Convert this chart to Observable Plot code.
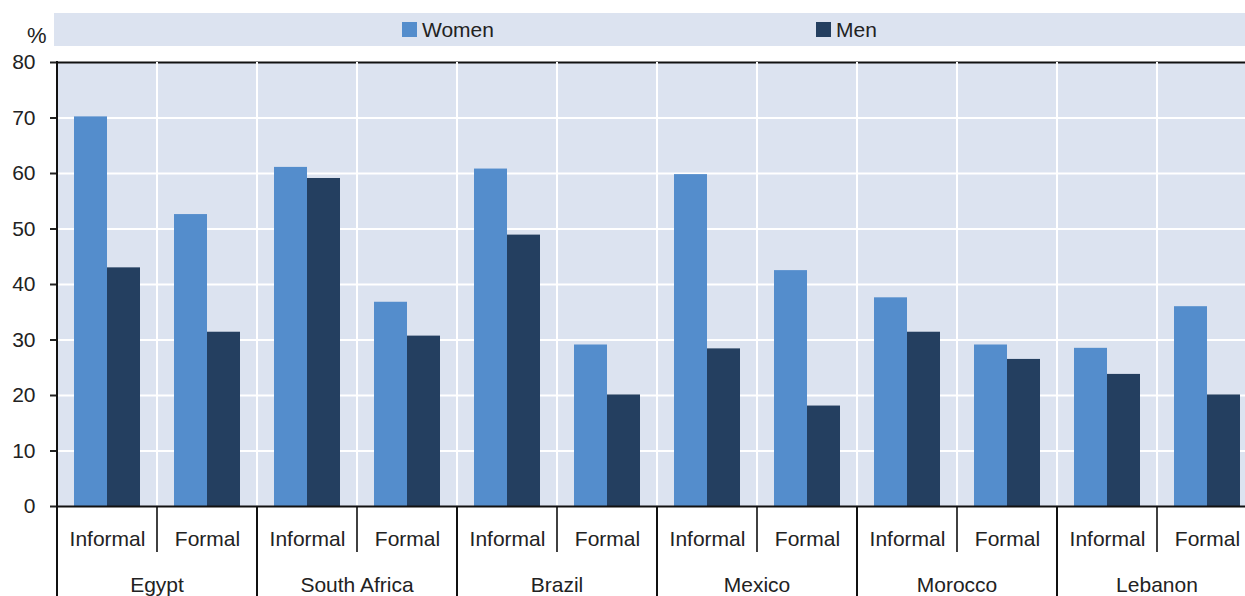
<!DOCTYPE html>
<html>
<head>
<meta charset="utf-8">
<script src="https://cdn.jsdelivr.net/npm/d3@7"></script>
<script src="https://cdn.jsdelivr.net/npm/@observablehq/plot@0.6"></script>
<style>
  html, body { margin: 0; padding: 0; background: #fff; overflow: hidden; }
  body { width: 1245px; height: 596px; font-family: "Liberation Sans", Arial, sans-serif; color: #222; }
  #head { position: relative; height: 46px; }
  #pct { position: absolute; left: 27px; top: 25px; font-size: 22px; line-height: 22px; }
  #legend { position: absolute; left: 54px; right: 0; top: 13px; height: 33px; background: #dce3f0; }
  .item { position: absolute; top: 0; height: 33px; display: flex; align-items: center; font-size: 21px; }
  .sw { width: 15px; height: 15px; margin-right: 5px; }
  #chart svg { display: block; }
  #chart svg [aria-label="y-axis tick"] path { stroke-width: 2; }
</style>
</head>
<body>
<div id="head">
  <span id="pct">%</span>
  <div id="legend"></div>
</div>
<div id="chart"></div>
<script>
// ---- data ----
const countries = ["Egypt", "South Africa", "Brazil", "Mexico", "Morocco", "Lebanon"];
const types = ["Informal", "Formal"];
const series = ["Women", "Men"];
// values per country, in order Informal, Formal
const women = [70.2, 52.6, 61.1, 36.8, 60.8, 29.1, 59.8, 42.5, 37.6, 29.1, 28.5, 36.0];
const men   = [43.0, 31.4, 59.1, 30.7, 48.9, 20.1, 28.4, 18.1, 31.4, 26.5, 23.8, 20.1];
const yTicks = [0, 10, 20, 30, 40, 50, 60, 70, 80];

// ---- styles ----
const colors = {Women: "#548dcc", Men: "#243f60"};
const bg = "#dce3f0";

// ---- build table ----
const keys = [];
const rows = [];
countries.forEach((c, ci) => {
  types.forEach((t, ti) => {
    const k = c + "|" + t;
    keys.push(k);
    const i = ci * types.length + ti;
    rows.push({key: k, country: c, type: t, sex: "Women", value: women[i]});
    rows.push({key: k, country: c, type: t, sex: "Men", value: men[i]});
  });
});

// legend
const legend = document.getElementById("legend");
const legendPos = {Women: 348, Men: 762};
series.forEach(s => {
  const it = document.createElement("div");
  it.className = "item";
  it.style.left = legendPos[s] + "px";
  it.innerHTML = `<span class="sw" style="background:${colors[s]}"></span><span>${s}</span>`;
  legend.appendChild(it);
});

const H = 550;
const plot = Plot.plot({
  width: 1245,
  height: H,
  marginLeft: 57,
  marginRight: -12,
  marginTop: 16,
  marginBottom: 90,
  style: {fontFamily: "Liberation Sans, Arial, sans-serif", fontSize: "21px", color: "#222", background: "transparent", overflow: "visible"},
  fx: {domain: keys, padding: 0, axis: "bottom", tickSize: 0, tickPadding: 25, tickFormat: d => d.split("|")[1], label: null},
  x: {domain: series, axis: null, paddingInner: 0, paddingOuter: 0.515},
  y: {domain: [0, 80], ticks: yTicks, tickSize: 7, tickPadding: 15, label: null, axis: "left"},
  color: {domain: series, range: series.map(s => colors[s])},
  marks: [
    Plot.frame({fill: bg, stroke: null}),
    Plot.ruleY(yTicks.slice(1, -1), {stroke: "white", strokeWidth: 2}),
    Plot.barY(rows, {fx: "key", x: "sex", y: "value", fill: "sex"}),
    Plot.ruleY([0, 80], {stroke: "#111", strokeWidth: 2})
  ]
});
document.getElementById("chart").appendChild(plot);

// ---- structural lines & country labels from the plot's scales ----
const fxD = plot.scale("fx");
const yD = plot.scale("y");
const fx = d3.scaleBand(fxD.domain, fxD.range)
  .paddingInner(fxD.paddingInner ?? 0)
  .paddingOuter(fxD.paddingOuter ?? 0)
  .align(fxD.align ?? 0.5);
const y = d3.scaleLinear(yD.domain, yD.range);
const bw = fx.bandwidth();
const svg = d3.select(plot);
const g = svg.append("g").attr("aria-label", "structure");

// white vertical grid lines between subgroups
keys.slice(1).forEach(k => {
  g.append("line").attr("x1", fx(k)).attr("x2", fx(k))
    .attr("y1", y(80)).attr("y2", y(0) - 1)
    .attr("stroke", "white").attr("stroke-width", 2);
});
// left axis line
g.append("line").attr("x1", fx(keys[0])).attr("x2", fx(keys[0]))
  .attr("y1", y(80) - 1).attr("y2", y(0))
  .attr("stroke", "#111").attr("stroke-width", 2);
// separators below the axis
keys.forEach(k => {
  const isCountryStart = k.endsWith("|" + types[0]);
  g.append("line").attr("x1", fx(k)).attr("x2", fx(k))
    .attr("y1", y(0))
    .attr("y2", isCountryStart ? H : y(0) + 46)
    .attr("stroke", "#111").attr("stroke-width", isCountryStart ? 2 : 1.6);
});
const endX = fx(keys[keys.length - 1]) + bw;
g.append("line").attr("x1", endX).attr("x2", endX).attr("y1", y(0)).attr("y2", H)
  .attr("stroke", "#111").attr("stroke-width", 2);
// country labels
countries.forEach(c => {
  const cx = fx(c + "|" + types[0]) + bw;
  g.append("text").attr("x", cx).attr("y", H - 4)
    .attr("text-anchor", "middle").attr("fill", "#222")
    .attr("font-size", 21).text(c);
});
</script>
</body>
</html>
